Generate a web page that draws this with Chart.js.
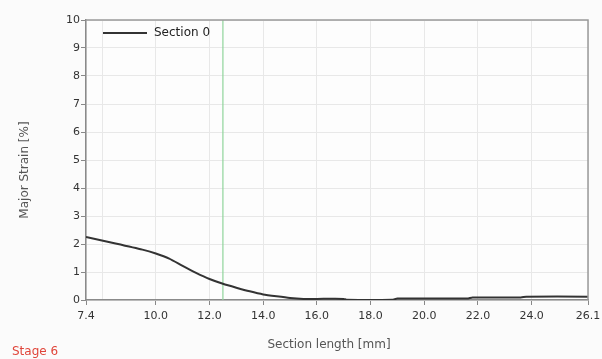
<!DOCTYPE html>
<html><head><meta charset="utf-8">
<script src="https://cdn.jsdelivr.net/npm/chart.js@4/dist/chart.umd.min.js"></script>
<style>
html,body{margin:0;padding:0;background:#fbfbfb;}
#wrap{width:602px;height:359px;position:relative;}
</style></head><body>
<div id="wrap"><canvas id="c" width="602" height="359"></canvas></div>
<script>
const sectionX = [7.4, 8.5, 9.5, 10.0, 10.5, 11.0, 11.5, 12.0, 12.5, 13.0, 13.5, 14.0, 14.5, 15.0, 15.5, 16.0, 17.0, 17.1, 18.8, 19.0, 21.6, 21.8, 23.6, 23.8, 26.1];
const strain   = [2.25, 2.02, 1.8, 1.66, 1.48, 1.22, 0.97, 0.75, 0.58, 0.44, 0.31, 0.2, 0.13, 0.07, 0.04, 0.04, 0.04, 0.01, 0.01, 0.05, 0.05, 0.09, 0.09, 0.12, 0.12];
const markerX = [12.5, 12.5];
const markerY = [0, 10];
const xTicks = [7.4, 8.0, 10.0, 12.0, 14.0, 16.0, 18.0, 20.0, 22.0, 24.0, 26.1];
const xLabelsShown = [7.4, 10.0, 12.0, 14.0, 16.0, 18.0, 20.0, 22.0, 24.0, 26.1];
const yTicks = [0, 1, 2, 3, 4, 5, 6, 7, 8, 9, 10];
const seriesName = "Section 0";
const xTitle = "Section length [mm]";
const yTitle = "Major Strain [%]";
const stageLabel = "Stage 6";

const FONT = "'DejaVu Sans', Verdana, sans-serif";

const extras = {
  id: 'extras',
  afterDraw(chart) {
    const ctx = chart.ctx, a = chart.chartArea;
    ctx.save();
    ctx.strokeStyle = '#9a9a9a';
    ctx.lineWidth = 1.5;
    ctx.beginPath();
    ctx.moveTo(a.left, a.top); ctx.lineTo(a.right, a.top); ctx.lineTo(a.right, a.bottom);
    ctx.stroke();
    // legend
    const ds = chart.data.datasets[0];
    ctx.strokeStyle = ds.borderColor;
    ctx.lineWidth = 2;
    ctx.beginPath();
    ctx.moveTo(a.left + 17, a.top + 13); ctx.lineTo(a.left + 61, a.top + 13);
    ctx.stroke();
    ctx.fillStyle = '#222';
    ctx.font = "12px " + FONT;
    ctx.textAlign = 'left'; ctx.textBaseline = 'middle';
    ctx.fillText(ds.label, a.left + 68, a.top + 13);
    // titles
    ctx.fillStyle = '#555';
    ctx.textAlign = 'center';
    ctx.fillText(xTitle, 329, 345);
    ctx.translate(25, 170);
    ctx.rotate(-Math.PI / 2);
    ctx.fillText(yTitle, 0, 0);
    ctx.restore();
    ctx.save();
    ctx.fillStyle = '#e0453a';
    ctx.font = "12px " + FONT;
    ctx.textAlign = 'left'; ctx.textBaseline = 'middle';
    ctx.fillText(stageLabel, 12, 352);
    ctx.restore();
  }
};

const bg = {
  id: 'bg',
  beforeDraw(chart) {
    const ctx = chart.ctx, a = chart.chartArea;
    ctx.save();
    ctx.fillStyle = '#fbfbfb';
    ctx.fillRect(0, 0, chart.width, chart.height);
    ctx.fillStyle = '#fdfdfd';
    ctx.fillRect(a.left, a.top, a.right - a.left, a.bottom - a.top);
    ctx.restore();
  }
};

new Chart(document.getElementById('c'), {
  type: 'line',
  data: {
    datasets: [
      {
        label: seriesName,
        data: sectionX.map((x, i) => ({x: x, y: strain[i]})),
        borderColor: '#333333',
        backgroundColor: '#333333',
        borderWidth: 2,
        pointRadius: 0,
        tension: 0.2,
        order: 1
      },
      {
        label: 'marker',
        data: markerX.map((x, i) => ({x: x, y: markerY[i]})),
        borderColor: '#8fd49a',
        borderWidth: 1.2,
        pointRadius: 0,
        order: 2
      }
    ]
  },
  options: {
    responsive: false,
    animation: false,
    layout: {padding: {left: 0, right: 14, top: 20, bottom: 0}},
    plugins: {
      tooltip: {enabled: false},
      legend: {display: false}
    },
    scales: {
      x: {
        type: 'linear',
        min: 7.4, max: 26.1,
        afterBuildTicks(s) { s.ticks = xTicks.map(v => ({value: v})); },
        afterFit(s) { s.height = 59; s.paddingRight = 0; s.paddingLeft = 0; },
        ticks: {
          autoSkip: false,
          maxRotation: 0,
          color: '#333',
          font: {family: FONT, size: 11},
          padding: 5,
          callback: (v) => xLabelsShown.includes(v) ? v.toFixed(1) : ''
        },
        grid: {
          color: '#e8e8e8',
          tickColor: (c) => (c.tick && xLabelsShown.includes(c.tick.value)) ? '#888' : 'rgba(0,0,0,0)',
          tickLength: 5, lineWidth: 1
        },
        border: {color: '#8a8a8a', width: 1.5}
      },
      y: {
        min: 0, max: 10,
        afterBuildTicks(s) { s.ticks = yTicks.map(v => ({value: v})); },
        afterFit(s) { s.width = 86; s.paddingTop = 0; s.paddingBottom = 0; },
        ticks: {
          color: '#333',
          font: {family: FONT, size: 11},
          padding: 1
        },
        grid: {color: '#e8e8e8', tickColor: '#888', tickLength: 5, lineWidth: 1},
        border: {color: '#8a8a8a', width: 1.5}
      }
    }
  },
  plugins: [bg, extras]
});
</script>
</body></html>
